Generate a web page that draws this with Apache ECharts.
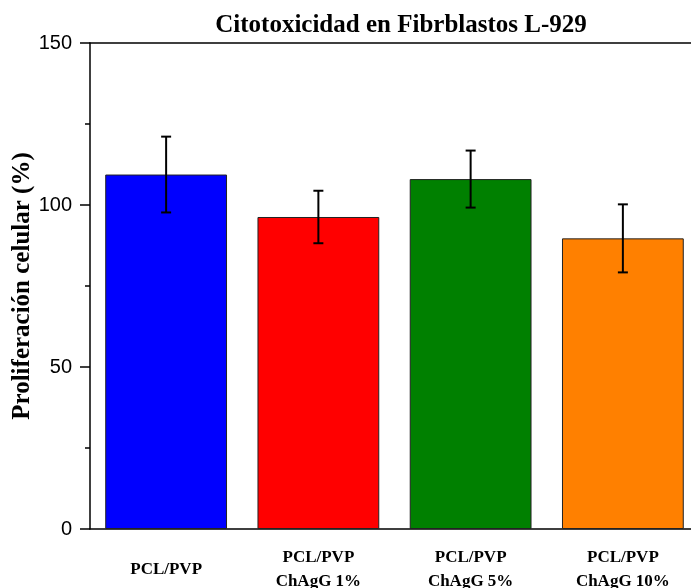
<!DOCTYPE html>
<html><head><meta charset="utf-8">
<script src="https://cdn.jsdelivr.net/npm/echarts@6/dist/echarts.min.js"></script>
<style>html,body{margin:0;padding:0;background:#fff}#c{width:691px;height:588px}</style>
</head><body><div id="c"></div>
<script>
const categories = ['PCL/PVP', 'PCL/PVP\nChAgG 1%', 'PCL/PVP\nChAgG 5%', 'PCL/PVP\nChAgG 10%'];
const means = [109.4, 96.3, 108.0, 89.7];
const errors = [11.7, 8.1, 8.8, 10.5];
const barColors = ['#0000ff', '#ff0000', '#008000', '#ff8000'];
const yTicks = [0, 50, 100, 150];

const chart = echarts.init(document.getElementById('c'));
const serif = 'Liberation Serif';
const sans = 'Liberation Sans';
chart.setOption({
  animation: false,
  title: {
    text: 'Citotoxicidad en Fibrblastos L-929',
    left: 396, textAlign: 'center', top: 8,
    textStyle: { fontFamily: serif, fontWeight: 'bold', fontSize: 25, color: '#000' }
  },
  grid: { left: 90, top: 43, right: -8, height: 486, outerBoundsMode: 'none', containLabel: false },
  xAxis: [
    {
      type: 'category', data: categories, position: 'bottom',
      axisLine: { lineStyle: { color: '#000', width: 1.5 } },
      axisTick: { alignWithLabel: true, length: 8, lineStyle: { color: '#000', width: 1.5 } },
      axisLabel: { fontFamily: serif, fontWeight: 'bold', fontSize: 17, color: '#000', lineHeight: 24, verticalAlign: 'middle', margin: 41, interval: 0 }
    },
    {
      type: 'category', data: categories, position: 'bottom', offset: 0,
      axisLine: { show: false },
      axisTick: { length: 4, lineStyle: { color: '#000', width: 1.5 } },
      axisLabel: { show: false }
    },
    {
      type: 'category', data: categories, position: 'top',
      axisLine: { lineStyle: { color: '#000', width: 1.5 } },
      axisTick: { show: false }, axisLabel: { show: false }
    }
  ],
  yAxis: {
    type: 'value', min: yTicks[0], max: yTicks[yTicks.length - 1], interval: 50,
    name: 'Proliferación celular (%)', nameLocation: 'middle', nameGap: 55, nameRotate: 90,
    nameMoveOverlap: false,
    nameTextStyle: { fontFamily: serif, fontWeight: 'bold', fontSize: 25, color: '#000' },
    axisLine: { show: true, lineStyle: { color: '#000', width: 1.5 } },
    axisTick: { show: true, length: 10, lineStyle: { color: '#000', width: 1.5 } },
    minorTick: { show: true, splitNumber: 2, length: 5, lineStyle: { color: '#000', width: 1.5 } },
    axisLabel: { fontFamily: sans, fontSize: 20, color: '#000', margin: 18 },
    splitLine: { show: false }
  },
  series: [
    {
      type: 'bar', xAxisIndex: 0, barCategoryGap: '20%',
      data: means.map((v, i) => ({ value: v, itemStyle: { color: barColors[i] } })),
      itemStyle: { borderColor: '#222', borderWidth: 1 }
    },
    {
      type: 'custom', xAxisIndex: 0,
      data: means.map((v, i) => [i, v - errors[i], v + errors[i]]),
      renderItem: function (params, api) {
        const lo = api.coord([api.value(0), api.value(1)]);
        const hi = api.coord([api.value(0), api.value(2)]);
        const hw = 5;
        const st = { stroke: '#000', lineWidth: 2 };
        return { type: 'group', children: [
          { type: 'line', shape: { x1: hi[0], y1: hi[1], x2: lo[0], y2: lo[1] }, style: st },
          { type: 'line', shape: { x1: hi[0] - hw, y1: hi[1], x2: hi[0] + hw, y2: hi[1] }, style: st },
          { type: 'line', shape: { x1: lo[0] - hw, y1: lo[1], x2: lo[0] + hw, y2: lo[1] }, style: st }
        ]};
      },
      z: 10
    }
  ]
});
</script></body></html>
